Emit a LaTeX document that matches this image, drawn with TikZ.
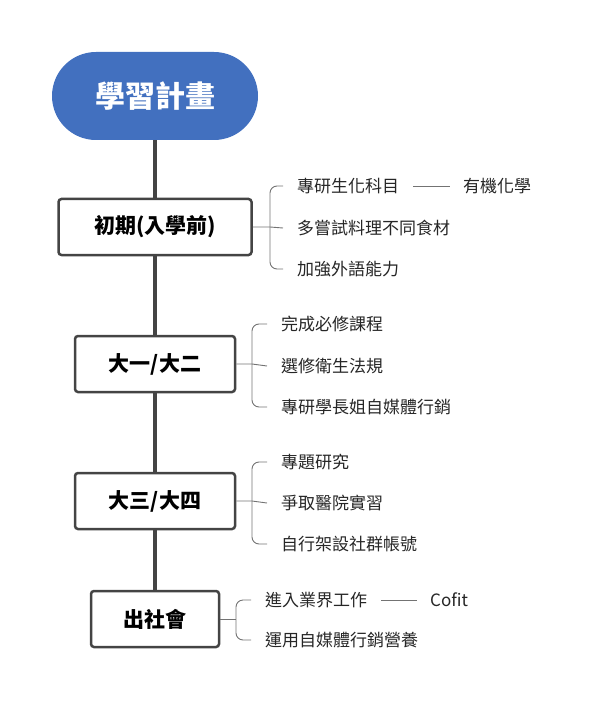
\documentclass[tikz,border=0pt]{standalone}
\usepackage{fontspec}
\setmainfont{Noto Sans CJK TC}
\begin{document}
\begin{tikzpicture}[x=1pt, y=-1pt,
  Root/.style={fill=rootblue, draw=none, rounded corners=44pt, minimum width=206pt,
               minimum height=88pt, text=white, font=\fontsize{30}{32}\selectfont\bfseries},
  Stage/.style={draw=linegray, line width=2.5pt, fill=white, rounded corners=3pt,
                minimum height=56pt, font=\fontsize{21}{24}\selectfont\bfseries},
  Item/.style={inner sep=0pt, anchor=west, font=\fontsize{17}{20}\selectfont, text=black!85},
  Brk/.style={draw=black!55, line width=0.9pt},
  ]
\definecolor{rootblue}{HTML}{4270BF}
\definecolor{linegray}{HTML}{444444}
\useasboundingbox (0,0) rectangle (600,708);
\draw[linegray, line width=4pt] (155,140) -- (155,595);
\node [Root] (root) at (155,96) {學習計畫};
\node [Stage, minimum width=193pt] (s1) at (155,227) {初期(入學前)};
\node [Stage, minimum width=160pt] (s2) at (155,364) {大一/大二};
\node [Stage, minimum width=160pt] (s3) at (155,501) {大三/大四};
\node [Stage, minimum width=128pt] (s4) at (155,619) {出社會};
% stage 1
\node [Item] (a1) at (297,186) {專研生化科目};
\node [Item] (a2) at (297,228) {多嘗試料理不同食材};
\node [Item] (a3) at (297,269) {加強外語能力};
\node [Item] (a4) at (463,186) {有機化學};
\coordinate (k1) at (270,227);
\draw[Brk] (s1.east) -- (k1) -- ([xshift=-14]a2.west);
\draw[Brk, rounded corners=7pt] ([xshift=-14]a1.west) -| (k1) |- ([xshift=-14]a3.west);
\draw[Brk] ([xshift=14]a1.east) -- ([xshift=-13]a4.west);
% stage 2
\node [Item] (b1) at (281,324) {完成必修課程};
\node [Item] (b2) at (281,366) {選修衛生法規};
\node [Item] (b3) at (281,407) {專研學長姐自媒體行銷};
\coordinate (k2) at (252,364);
\draw[Brk] (s2.east) -- (k2) -- ([xshift=-14]b2.west);
\draw[Brk, rounded corners=7pt] ([xshift=-14]b1.west) -| (k2) |- ([xshift=-14]b3.west);
% stage 3
\node [Item] (c1) at (281,462) {專題研究};
\node [Item] (c2) at (281,503) {爭取醫院實習};
\node [Item] (c3) at (281,544) {自行架設社群帳號};
\coordinate (k3) at (252,501);
\draw[Brk] (s3.east) -- (k3) -- ([xshift=-14]c2.west);
\draw[Brk, rounded corners=7pt] ([xshift=-14]c1.west) -| (k3) |- ([xshift=-14]c3.west);
% stage 4
\node [Item] (d1) at (265,600) {進入業界工作};
\node [Item] (d2) at (265,640) {運用自媒體行銷營養};
\node [Item] (d3) at (430,600) {Cofit};
\coordinate (k4) at (236,619);
\draw[Brk] (s4.east) -- (k4);
\draw[Brk, rounded corners=7pt] ([xshift=-14]d1.west) -| (k4) |- ([xshift=-14]d2.west);
\draw[Brk] ([xshift=14]d1.east) -- ([xshift=-13]d3.west);
\end{tikzpicture}
\end{document}
